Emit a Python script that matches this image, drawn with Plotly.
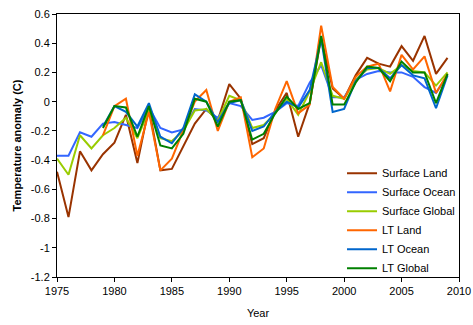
import plotly.graph_objects as go

years = list(range(1975, 2010))
lt_years = list(range(1979, 2010))

surface_land = [-0.48, -0.79, -0.34, -0.47, -0.36, -0.28, -0.09, -0.42, -0.04, -0.47,
                -0.46, -0.31, -0.15, -0.05, -0.13, 0.12, 0.02, -0.29, -0.25, -0.06,
                0.06, -0.24, -0.01, 0.44, 0.09, 0.02, 0.18, 0.30, 0.26, 0.24,
                0.38, 0.28, 0.45, 0.19, 0.30]
surface_ocean = [-0.37, -0.37, -0.21, -0.24, -0.15, -0.14, -0.16, -0.18, -0.04, -0.18,
                 -0.21, -0.19, -0.05, -0.06, -0.11, -0.01, -0.03, -0.125, -0.11, -0.07,
                 -0.01, -0.03, 0.13, 0.25, 0.03, 0.03, 0.15, 0.19, 0.21, 0.20,
                 0.20, 0.17, 0.10, 0.06, 0.18]
surface_global = [-0.39, -0.50, -0.23, -0.32, -0.23, -0.18, -0.11, -0.25, -0.06, -0.25,
                  -0.27, -0.20, -0.06, -0.05, -0.13, 0.04, 0.01, -0.18, -0.16, -0.08,
                  0.02, -0.09, 0.07, 0.27, 0.04, 0.02, 0.15, 0.22, 0.23, 0.19,
                  0.25, 0.21, 0.20, 0.11, 0.20]
lt_land = [-0.23, -0.03, 0.02, -0.37, -0.07, -0.47, -0.39, -0.19, 0.0, 0.08,
           -0.20, 0.0, 0.03, -0.38, -0.32, -0.05, 0.14, -0.08, -0.02, 0.52,
           0.10, 0.02, 0.17, 0.24, 0.26, 0.07, 0.32, 0.22, 0.31, 0.06, 0.19]
lt_ocean = [-0.17, -0.03, -0.07, -0.17, -0.01, -0.24, -0.285, -0.18, 0.05, 0.0,
            -0.14, -0.01, 0.01, -0.20, -0.17, -0.07, 0.0, -0.04, 0.08, 0.43,
            -0.07, -0.05, 0.14, 0.23, 0.23, 0.16, 0.25, 0.18, 0.16, -0.045, 0.18]
lt_global = [-0.18, -0.03, -0.04, -0.24, -0.03, -0.30, -0.32, -0.22, 0.02, 0.0,
             -0.17, 0.0, 0.01, -0.26, -0.22, -0.08, 0.035, -0.05, -0.01, 0.45,
             -0.02, -0.02, 0.13, 0.24, 0.23, 0.14, 0.275, 0.20, 0.20, -0.01, 0.19]

series = [
    ("Surface Land", years, surface_land, "#993300"),
    ("Surface Ocean", years, surface_ocean, "#3366FF"),
    ("Surface Global", years, surface_global, "#99CC00"),
    ("LT Land", lt_years, lt_land, "#FF6600"),
    ("LT Ocean", lt_years, lt_ocean, "#0066CC"),
    ("LT Global", lt_years, lt_global, "#008000"),
]

y_ticks = [0.6, 0.4, 0.2, 0, -0.2, -0.4, -0.6, -0.8, -1, -1.2]
y_tick_text = ["0.6", "0.4", "0.2", "0", "-0.2", "-0.4", "-0.6", "-0.8", "-1", "-1.2"]
x_ticks = [1975, 1980, 1985, 1990, 1995, 2000, 2005, 2010]

font = "Liberation Sans, Arial, sans-serif"

fig = go.Figure()
for name, xs, ys, color in series:
    fig.add_trace(go.Scatter(x=xs, y=ys, mode="lines", name=name,
                             line=dict(color=color, width=2)))

fig.update_layout(
    width=473, height=325,
    margin=dict(l=57, r=14, t=14, b=48, autoexpand=False),
    paper_bgcolor="white", plot_bgcolor="white",
    font=dict(family=font, size=11, color="black"),
    showlegend=True,
    legend=dict(x=0.709, y=0.450, xanchor="left", yanchor="top",
                bgcolor="rgba(0,0,0,0)", font=dict(size=11, family=font),
                tracegroupgap=0),
    xaxis=dict(range=[1975, 2010], tickvals=x_ticks, showgrid=False, zeroline=False,
               showline=True, linecolor="black", linewidth=1, mirror=True,
               ticks="outside", ticklen=4, tickcolor="black", automargin=False,
               title=dict(text="Year", font=dict(size=11), standoff=13)),
    yaxis=dict(range=[-1.2, 0.6], tickvals=y_ticks, ticktext=y_tick_text,
               showgrid=False, zeroline=False, automargin=False,
               showline=True, linecolor="black", linewidth=1, mirror=True,
               ticks="outside", ticklen=4, tickcolor="black",
               title=dict(text="<b>Temperature anomaly (C)</b>", font=dict(size=11), standoff=6)),
)

fig.write_html("out.html")
